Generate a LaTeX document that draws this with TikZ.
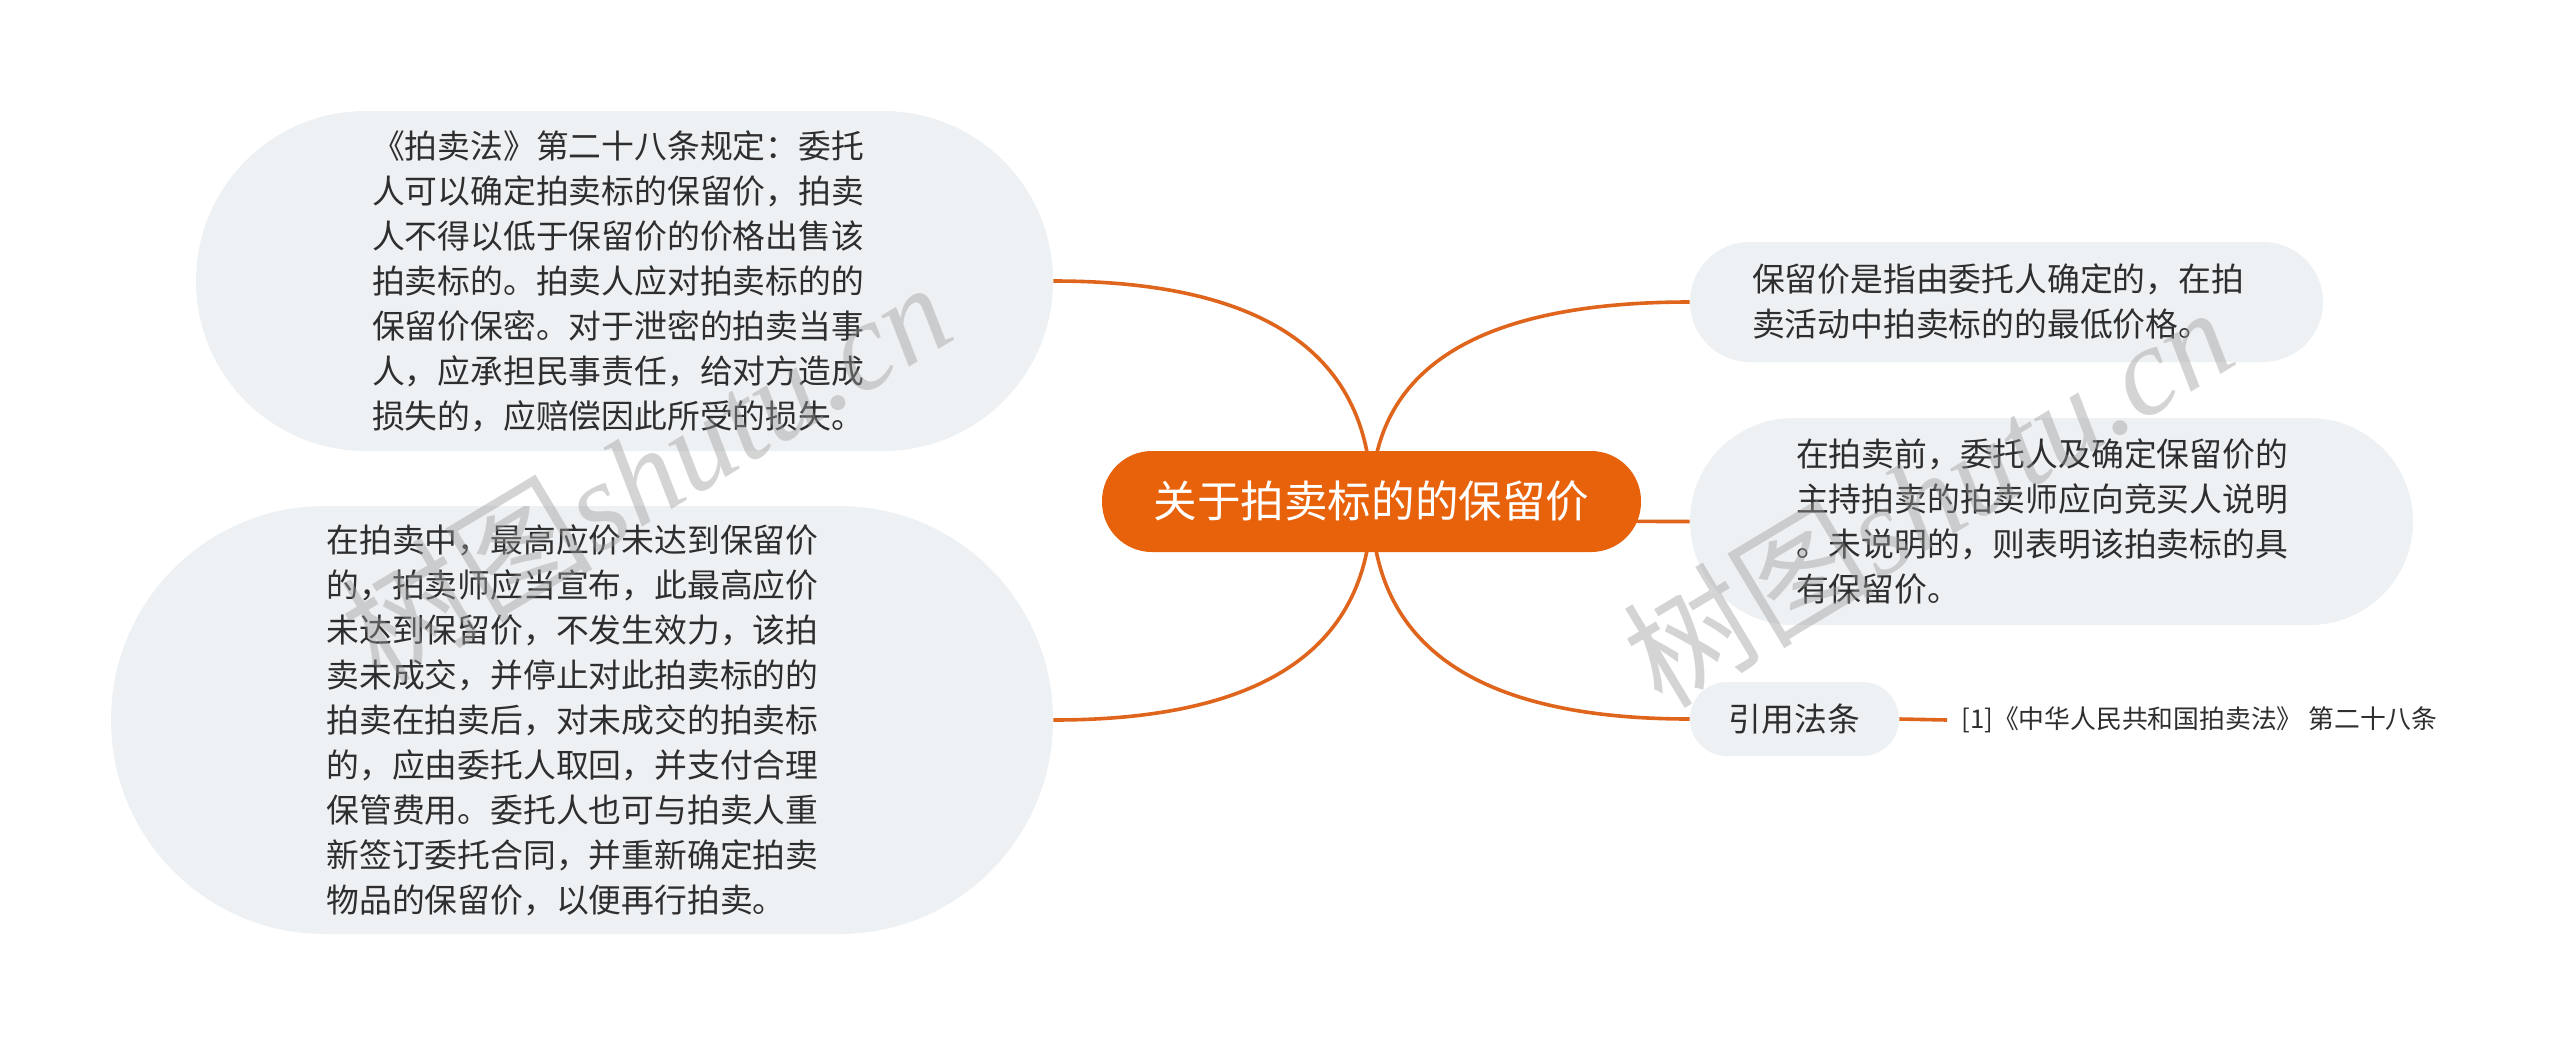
\documentclass[tikz,border=0pt]{standalone}
\usepackage{fontspec}
\usetikzlibrary{calc}
\newfontfamily\cjk{Noto Sans CJK SC}
\newfontfamily\wmserif{Liberation Serif}
\definecolor{mainorange}{HTML}{E8620C}
\definecolor{lineorange}{HTML}{E0651C}
\definecolor{boxgray}{HTML}{EEF1F4}
\definecolor{txt}{HTML}{2E2E2E}
\definecolor{wmgray}{HTML}{9A9A9A}
\pgfdeclarelayer{back}
\pgfdeclarelayer{bg}
\pgfdeclarelayer{fg}
\pgfsetlayers{back,bg,main,fg}
\begin{document}
\begin{tikzpicture}[x=0.5pt,y=-0.5pt,
  leaf/.style={fill=boxgray, draw=none, inner ysep=0pt, text=txt, align=left,
    font=\cjk\fontsize{16.4pt}{22.5pt}\selectfont},
  root/.style={fill=mainorange, draw=none, inner sep=0pt, text=white,
    font=\cjk\fontsize{21.8pt}{26pt}\selectfont,
    minimum width=269.5pt, minimum height=50.5pt, rounded corners=25pt},
  conn/.style={draw=lineorange, line width=1.8pt},
  qcurve/.style={to path={.. controls ($(\tikztostart)!2/3!(\tikztostart|-\tikztotarget)$) and ($(\tikztotarget)!2/3!(\tikztostart|-\tikztotarget)$) .. (\tikztotarget)}},
  cite/.style={inner xsep=7pt, inner ysep=2pt, text=txt, anchor=west,
    font=\cjk\fontsize{12.9pt}{16pt}\selectfont},
  wm/.style={text=wmgray, opacity=0.42, inner sep=0pt, rotate=31,
    font=\fontsize{63pt}{68pt}\selectfont}
]
\begin{pgfonlayer}{back}
\fill[white] (0,0) rectangle (2560,1045);
\end{pgfonlayer}
\useasboundingbox (0,0) rectangle (2560,1045);

\node[root] (m) at (1371.5,501.5) {关于拍卖标的的保留价};

\node[leaf, minimum height=170pt, inner xsep=88pt, text width=252.5pt, rounded corners=84.9pt] (a) at (624.5,281)
{《拍卖法》第二十八条规定：委托\\人可以确定拍卖标的保留价，拍卖\\人不得以低于保留价的价格出售该\\拍卖标的。拍卖人应对拍卖标的的\\保留价保密。对于泄密的拍卖当事\\人，应承担民事责任，给对方造成\\损失的，应赔偿因此所受的损失。};

\node[leaf, minimum height=214pt, inner xsep=107.75pt, text width=255.5pt, rounded corners=106.9pt] (b) at (582,720)
{在拍卖中，最高应价未达到保留价\\的，拍卖师应当宣布，此最高应价\\未达到保留价，不发生效力，该拍\\卖未成交，并停止对此拍卖标的的\\拍卖在拍卖后，对未成交的拍卖标\\的，应由委托人取回，并支付合理\\保管费用。委托人也可与拍卖人重\\新签订委托合同，并重新确定拍卖\\物品的保留价，以便再行拍卖。};

\node[leaf, minimum height=60pt, inner xsep=31pt, text width=254.5pt, rounded corners=29.9pt] (c) at (2006.5,302)
{保留价是指由委托人确定的，在拍\\卖活动中拍卖标的的最低价格。};

\node[leaf, minimum height=103.5pt, inner xsep=53pt, text width=255.5pt, rounded corners=51.7pt] (d) at (2051.5,521.5)
{在拍卖前，委托人及确定保留价的\\主持拍卖的拍卖师应向竞买人说明\\。未说明的，则表明该拍卖标的具\\有保留价。};

\node[leaf, align=center, inner xsep=0pt, minimum width=104.5pt, minimum height=37pt, rounded corners=18.4pt] (e) at (1794.5,719) {引用法条};

\node[cite] (r) at (1947,720) {[1]《中华人民共和国拍卖法》 第二十八条};

\begin{pgfonlayer}{bg}
\draw[conn] (m.center) to[qcurve] (a.east);
\draw[conn] (m.center) to[qcurve] (b.east);
\draw[conn] (m.center) to[qcurve] (c.west);
\draw[conn] (m.center) to[qcurve] (d.west);
\draw[conn] (m.center) to[qcurve] (e.west);
\draw[conn] (e.east) -- (r.west);
\end{pgfonlayer}

\begin{pgfonlayer}{fg}
\node[wm] (w1) at (645,470) {\cjk 树图\wmserif\itshape shutu.cn};
\node[wm] (w2) at (1927,495) {\cjk 树图\wmserif\itshape shutu.cn};
\end{pgfonlayer}
\end{tikzpicture}
\end{document}
